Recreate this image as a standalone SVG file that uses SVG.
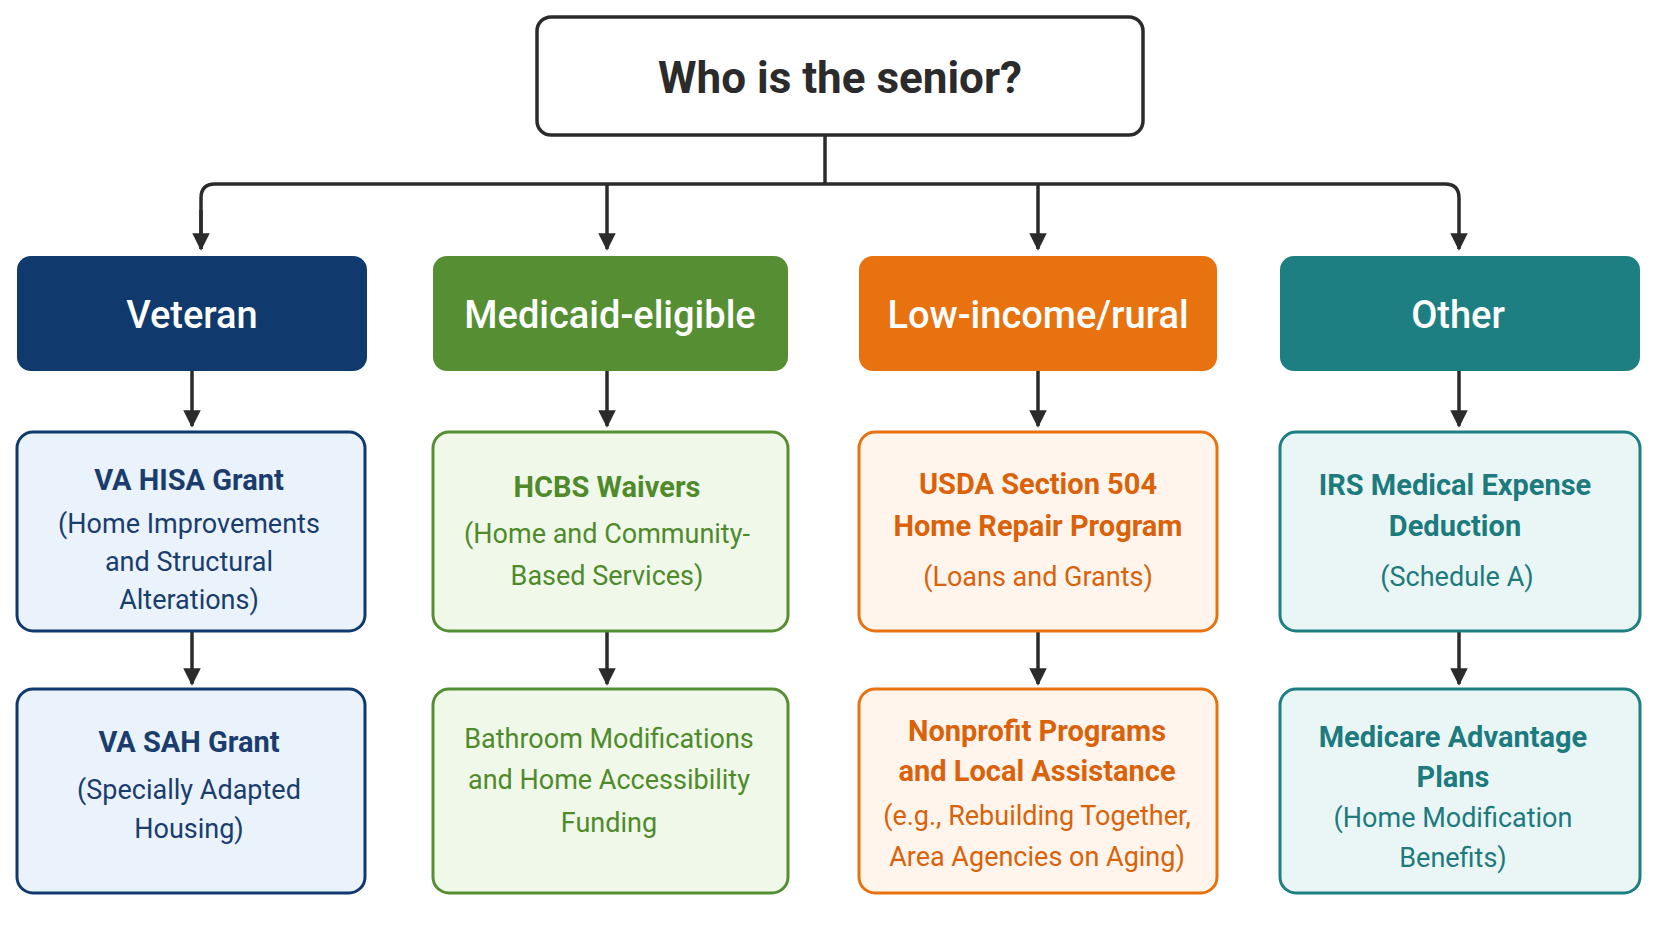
<svg xmlns="http://www.w3.org/2000/svg" width="1661" height="947" viewBox="0 0 1661 947">
<defs>
<marker id="ah" viewBox="0 0 10 10" refX="9" refY="5" markerWidth="5" markerHeight="5" orient="auto" markerUnits="strokeWidth"><path d="M0,0 L10,5 L0,10 z" fill="#2b2b2b"/></marker>
<style>
text{font-family:Roboto,"Liberation Sans",sans-serif;text-anchor:middle}
.c{stroke:#2b2b2b;stroke-width:3.5;fill:none}
.h{fill:#fff;font-size:38px;font-weight:500}
.b{font-size:29px;font-weight:700}
.r{font-size:27px}
.v{fill:#1a3d6e}.g{fill:#4f8a2b}.o{fill:#d9620a}.t{fill:#1d7a7d}
</style>
</defs>
<rect width="1661" height="947" fill="#fff"/>
<g id="connectors">
<path class="c" d="M825,135 V184"/>
<path class="c" d="M201,249 V198 Q201,184 215,184 H1445 Q1459,184 1459,198 V249" marker-end="url(#ah)"/>
<path class="c" d="M201,210 V249" marker-end="url(#ah)"/>
<path class="c" d="M607,184 V249" marker-end="url(#ah)"/>
<path class="c" d="M1038,184 V249" marker-end="url(#ah)"/>
<path class="c" d="M192,371 V426" marker-end="url(#ah)"/>
<path class="c" d="M607,371 V426" marker-end="url(#ah)"/>
<path class="c" d="M1038,371 V426" marker-end="url(#ah)"/>
<path class="c" d="M1459,371 V426" marker-end="url(#ah)"/>
<path class="c" d="M192,631 V684" marker-end="url(#ah)"/>
<path class="c" d="M607,631 V684" marker-end="url(#ah)"/>
<path class="c" d="M1038,631 V684" marker-end="url(#ah)"/>
<path class="c" d="M1459,631 V684" marker-end="url(#ah)"/>
</g>
<g id="root"><rect x="537" y="17" width="606" height="118" rx="14" fill="#fff" stroke="#2b2b2b" stroke-width="3.5"/><text x="840" y="93" style="font-size:44px;font-weight:700" fill="#2b2b2b">Who is the senior?</text></g>
<g id="veteran"><rect x="17" y="256" width="350" height="115" rx="14" fill="#10396e"/><text class="h" x="192" y="328">Veteran</text></g>
<g id="medicaid"><rect x="433" y="256" width="355" height="115" rx="14" fill="#568f33"/><text class="h" x="610" y="328">Medicaid-eligible</text></g>
<g id="lowincome"><rect x="859" y="256" width="358" height="115" rx="14" fill="#e8720f"/><text class="h" x="1038" y="328">Low-income/rural</text></g>
<g id="other"><rect x="1280" y="256" width="360" height="115" rx="14" fill="#1e7f82"/><text class="h" x="1458" y="328">Other</text></g>
<g id="vahisa"><rect x="17" y="432" width="348" height="199" rx="16" fill="#eaf3fb" stroke="#10396e" stroke-width="3"/><text class="b v" x="189" y="490">VA HISA Grant</text><text class="r v" x="189" y="533">(Home Improvements</text><text class="r v" x="189" y="571">and Structural</text><text class="r v" x="189" y="609">Alterations)</text></g>
<g id="vasah"><rect x="17" y="689" width="348" height="204" rx="16" fill="#eaf3fb" stroke="#10396e" stroke-width="3"/><text class="b v" x="189" y="752">VA SAH Grant</text><text class="r v" x="189" y="799">(Specially Adapted</text><text class="r v" x="189" y="838">Housing)</text></g>
<g id="hcbs"><rect x="433" y="432" width="355" height="199" rx="16" fill="#f0f8ea" stroke="#568f33" stroke-width="3"/><text class="b g" x="607" y="497">HCBS Waivers</text><text class="r g" x="607" y="543">(Home and Community-</text><text class="r g" x="607" y="585">Based Services)</text></g>
<g id="bathroom"><rect x="433" y="689" width="355" height="204" rx="16" fill="#f0f8ea" stroke="#568f33" stroke-width="3"/><text class="r g" x="609" y="748">Bathroom Modifications</text><text class="r g" x="609" y="789">and Home Accessibility</text><text class="r g" x="609" y="832">Funding</text></g>
<g id="usda"><rect x="859" y="432" width="358" height="199" rx="16" fill="#fff5ec" stroke="#e8720f" stroke-width="3"/><text class="b o" x="1038" y="494">USDA Section 504</text><text class="b o" x="1038" y="536">Home Repair Program</text><text class="r o" x="1038" y="586">(Loans and Grants)</text></g>
<g id="nonprofit"><rect x="859" y="689" width="358" height="204" rx="16" fill="#fff5ec" stroke="#e8720f" stroke-width="3"/><text class="b o" x="1037" y="741">Nonprofit Programs</text><text class="b o" x="1037" y="781">and Local Assistance</text><text class="r o" x="1037" y="825">(e.g., Rebuilding Together,</text><text class="r o" x="1037" y="866">Area Agencies on Aging)</text></g>
<g id="irs"><rect x="1280" y="432" width="360" height="199" rx="16" fill="#eaf6f6" stroke="#1e7f82" stroke-width="3"/><text class="b t" x="1455" y="495">IRS Medical Expense</text><text class="b t" x="1455" y="536">Deduction</text><text class="r t" x="1457" y="586">(Schedule A)</text></g>
<g id="medicare"><rect x="1280" y="689" width="360" height="204" rx="16" fill="#eaf6f6" stroke="#1e7f82" stroke-width="3"/><text class="b t" x="1453" y="747">Medicare Advantage</text><text class="b t" x="1453" y="787">Plans</text><text class="r t" x="1453" y="827">(Home Modification</text><text class="r t" x="1453" y="867">Benefits)</text></g>
</svg>
